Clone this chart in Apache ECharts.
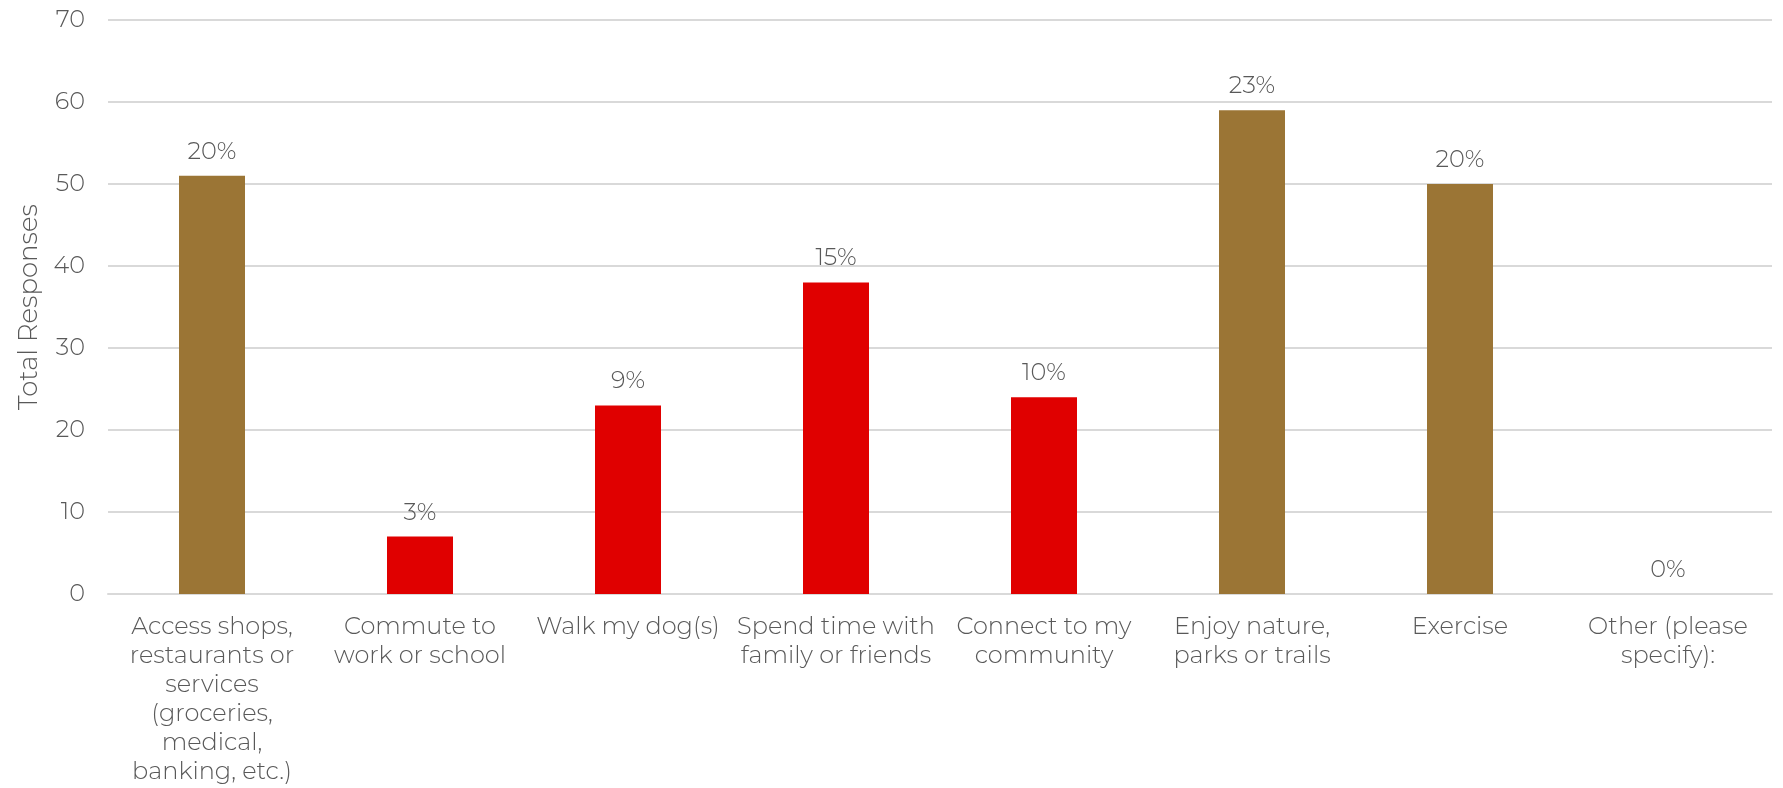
<!DOCTYPE html>
<html>
<head>
<meta charset="utf-8">
<script src="https://cdn.jsdelivr.net/npm/echarts@6/dist/echarts.min.js"></script>
<style>
  html, body { margin: 0; padding: 0; background: #ffffff; }
  #chart { width: 1783px; height: 788px; }
</style>
</head>
<body>
<div id="chart"></div>
<script>
// Survey: reasons for trips
const categories = [
  'Access shops,\nrestaurants or\nservices\n(groceries,\nmedical,\nbanking, etc.)',
  'Commute to\nwork or school',
  'Walk my dog(s)',
  'Spend time with\nfamily or friends',
  'Connect to my\ncommunity',
  'Enjoy nature,\nparks or trails',
  'Exercise',
  'Other (please\nspecify):'
];
const responses = [51, 7, 23, 38, 24, 59, 50, 0];
const barColors = ['#9B7535', '#E00000', '#E00000', '#E00000', '#E00000', '#9B7535', '#9B7535', '#9B7535'];
const yTicks = { min: 0, max: 70, interval: 10 };

const total = responses.reduce((a, b) => a + b, 0);
const FONT = "'Montserrat', 'Open Sans', sans-serif";
const TEXT = '#595959';

const chart = echarts.init(document.getElementById('chart'), null, { renderer: 'canvas' });
chart.setOption({
  animation: false,
  grid: { left: 108, right: 11, top: 20, bottom: 194, containLabel: false },
  xAxis: {
    type: 'category',
    data: categories,
    axisLine: { lineStyle: { color: '#d9d9d9', width: 2 } },
    axisTick: { show: false },
    axisLabel: {
      interval: 0,
      margin: 18,
      color: TEXT,
      fontFamily: FONT,
      fontWeight: 300,
      fontSize: 24,
      lineHeight: 29,
      align: 'center'
    }
  },
  yAxis: {
    type: 'value',
    min: yTicks.min,
    max: yTicks.max,
    interval: yTicks.interval,
    name: 'Total Responses',
    nameLocation: 'middle',
    nameGap: 57,
    nameTextStyle: { color: TEXT, fontFamily: FONT, fontWeight: 300, fontSize: 26 },
    axisLine: { show: false },
    axisTick: { show: false },
    splitLine: { lineStyle: { color: '#d9d9d9', width: 2 } },
    axisLabel: { color: TEXT, fontFamily: FONT, fontWeight: 300, fontSize: 24, margin: 23 }
  },
  series: [{
    type: 'bar',
    barWidth: 66,
    data: responses.map((v, i) => ({ value: v, itemStyle: { color: barColors[i] } })),
    label: {
      show: true,
      position: 'top',
      distance: 12,
      color: TEXT,
      fontFamily: FONT,
      fontWeight: 300,
      fontSize: 24,
      formatter: p => Math.round(p.value / total * 100) + '%'
    }
  }]
});
</script>
</body>
</html>
